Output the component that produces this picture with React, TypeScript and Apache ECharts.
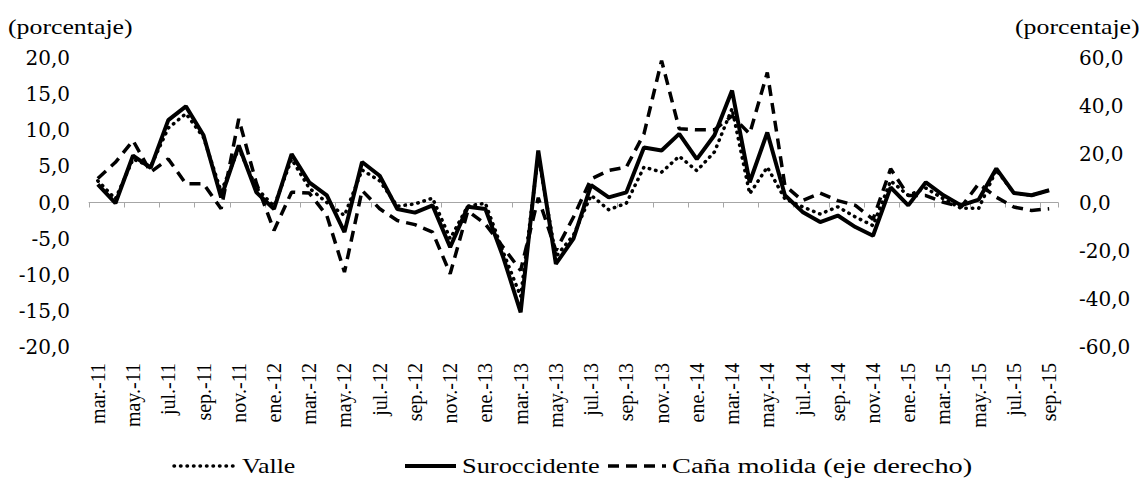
import React, { useEffect, useRef } from "react";
import * as echarts from "echarts";

const categories = [
  "mar.-11","abr.-11","may.-11","jun.-11","jul.-11","ago.-11","sep.-11","oct.-11","nov.-11","dic.-11",
  "ene.-12","feb.-12","mar.-12","abr.-12","may.-12","jun.-12","jul.-12","ago.-12","sep.-12","oct.-12","nov.-12","dic.-12",
  "ene.-13","feb.-13","mar.-13","abr.-13","may.-13","jun.-13","jul.-13","ago.-13","sep.-13","oct.-13","nov.-13","dic.-13",
  "ene.-14","feb.-14","mar.-14","abr.-14","may.-14","jun.-14","jul.-14","ago.-14","sep.-14","oct.-14","nov.-14","dic.-14",
  "ene.-15","feb.-15","mar.-15","abr.-15","may.-15","jun.-15","jul.-15","ago.-15","sep.-15",
];

const valle = [
  3.0, 0.5, 6.0, 5.0, 10.3, 12.3, 9.0, 1.5, 7.5, 2.0,
  -0.5, 6.0, 2.0, 0.0, -1.8, 4.5, 3.0, -0.5, -0.2, 0.6, -5.0, -0.5,
  -0.1, -6.8, -13.0, 6.5, -7.5, -4.5, 1.0, -1.0, -0.1, 4.9, 4.2, 6.4,
  4.4, 7.0, 13.0, 1.2, 4.9, 0.5, -0.6, -1.6, -0.6, -2.0, -3.2, 3.0,
  1.0, 2.0, 0.5, -0.8, -0.8, 4.5, 1.3, 1.0, 1.7,
];

const suroccidente = [
  2.5, -0.1, 6.5, 4.8, 11.4, 13.3, 9.3, 0.7, 7.9, 1.4,
  -0.9, 6.7, 2.8, 1.0, -4.1, 5.6, 3.7, -0.9, -1.4, -0.4, -6.2, -0.6,
  -0.9, -7.5, -15.2, 7.2, -8.5, -5.0, 2.4, 0.7, 1.4, 7.6, 7.2, 9.5,
  6.0, 9.3, 15.5, 2.8, 9.7, 1.0, -1.3, -2.7, -1.8, -3.4, -4.6, 2.1,
  -0.4, 2.8, 1.0, -0.4, 0.4, 4.7, 1.3, 1.0, 1.7,
];

const canaMolida = [
  10.0, 16.7, 25.7, 12.6, 18.1, 7.8, 7.8, -2.6, 34.7, 8.0,
  -11.6, 4.3, 3.9, -5.4, -28.9, 5.0, -2.6, -7.5, -9.2, -12.3, -29.6, -3.5,
  -9.0, -18.5, -28.2, 2.0, -20.0, -6.0, 9.8, 13.3, 14.7, 28.5, 58.9, 30.6,
  30.2, 30.2, 36.0, 28.5, 54.0, 7.0, 0.8, 3.9, 0.8, -1.2, -7.0, 14.0,
  2.9, 2.9, 0.1, -1.9, 7.8, 2.2, -1.9, -3.3, -2.6,
];

const seriesNames = ["Valle", "Suroccidente", "Caña molida (eje derecho)"];

const leftTicks = { min: -20, max: 20, interval: 5 };
const rightTicks = { min: -60, max: 60, interval: 20 };

const hFont = "DejaVu Serif";
const tFont = "Liberation Serif";

const dotted = { width: 3.5, dash: [0.5, 6], cap: "round" };
const dashed = { width: 3.5, dash: [11, 7], cap: "butt" };

export default function App() {
  const ref = useRef<HTMLDivElement>(null);
  useEffect(() => {
    if (!ref.current) return;
    const chart = echarts.init(ref.current, undefined, { renderer: "svg" });
    const fmt = (v: number) => v.toFixed(1).replace(".", ",");
    const ly = 466;
    const txt = (x: number, text: string, sx: number) => ({
      type: "text",
      x,
      y: ly,
      scaleX: sx,
      style: { text, fontFamily: tFont, fontSize: 20, fill: "#000", verticalAlign: "middle", align: "left" },
    });
    chart.setOption({
      animation: false,
      backgroundColor: "#fff",
      grid: { left: 89, right: 87, top: 58, bottom: 142, containLabel: false },
      xAxis: [
        {
          type: "category",
          data: categories,
          boundaryGap: true,
          position: "bottom",
          axisLine: { show: false, onZero: false },
          axisTick: { show: false },
          axisLabel: {
            interval: 1,
            rotate: 90,
            margin: 16,
            fontFamily: tFont,
            fontSize: 20,
            color: "#000",
          },
          splitLine: { show: false },
        },
        {
          type: "category",
          data: categories,
          boundaryGap: true,
          position: "bottom",
          axisLine: { show: true, onZero: true, onZeroAxisIndex: 0, lineStyle: { color: "#a6a6a6", width: 1 } },
          axisTick: { show: true, interval: 1, length: 5, lineStyle: { color: "#a6a6a6" } },
          axisLabel: { show: false },
          splitLine: { show: false },
        },
      ],
      yAxis: [
        {
          type: "value",
          ...leftTicks,
          axisLine: { show: false },
          axisTick: { show: false },
          splitLine: { show: false },
          axisLabel: { formatter: fmt, margin: 19, fontFamily: hFont, fontSize: 20, color: "#000" },
        },
        {
          type: "value",
          ...rightTicks,
          position: "right",
          axisLine: { show: false },
          axisTick: { show: false },
          splitLine: { show: false },
          axisLabel: { formatter: fmt, margin: 21, fontFamily: hFont, fontSize: 20, color: "#000" },
        },
      ],
      graphic: [
        { type: "text", x: 8, y: 27, scaleX: 1.29, style: { text: "(porcentaje)", fontFamily: tFont, fontSize: 20, fill: "#000", verticalAlign: "middle" } },
        { type: "text", x: 1015, y: 27, scaleX: 1.29, style: { text: "(porcentaje)", fontFamily: tFont, fontSize: 20, fill: "#000", verticalAlign: "middle" } },
        { type: "line", shape: { x1: 174, y1: ly, x2: 233, y2: ly }, style: { stroke: "#000", lineWidth: dotted.width, lineDash: dotted.dash, lineCap: dotted.cap } },
        txt(242, seriesNames[0], 1.3),
        { type: "line", shape: { x1: 405, y1: ly, x2: 456, y2: ly }, style: { stroke: "#000", lineWidth: 4 } },
        txt(462, seriesNames[1], 1.32),
        { type: "line", shape: { x1: 608, y1: ly, x2: 666, y2: ly }, style: { stroke: "#000", lineWidth: dashed.width, lineDash: dashed.dash } },
        txt(672, seriesNames[2], 1.42),
      ],
      series: [
        {
          name: seriesNames[0],
          type: "line",
          data: valle,
          xAxisIndex: 0,
          yAxisIndex: 0,
          symbol: "none",
          z: 3,
          lineStyle: { color: "#000", width: dotted.width, type: dotted.dash, cap: dotted.cap },
        },
        {
          name: seriesNames[1],
          type: "line",
          data: suroccidente,
          xAxisIndex: 0,
          yAxisIndex: 0,
          symbol: "none",
          z: 4,
          lineStyle: { color: "#000", width: 4, type: "solid" },
        },
        {
          name: seriesNames[2],
          type: "line",
          data: canaMolida,
          xAxisIndex: 0,
          yAxisIndex: 1,
          symbol: "none",
          z: 2,
          lineStyle: { color: "#000", width: dashed.width, type: dashed.dash },
        },
      ],
    });
    return () => chart.dispose();
  }, []);
  return (
    <div
      ref={ref}
      style={{ position: "fixed", left: 0, top: 0, width: 1145, height: 489, background: "#fff" }}
    />
  );
}
